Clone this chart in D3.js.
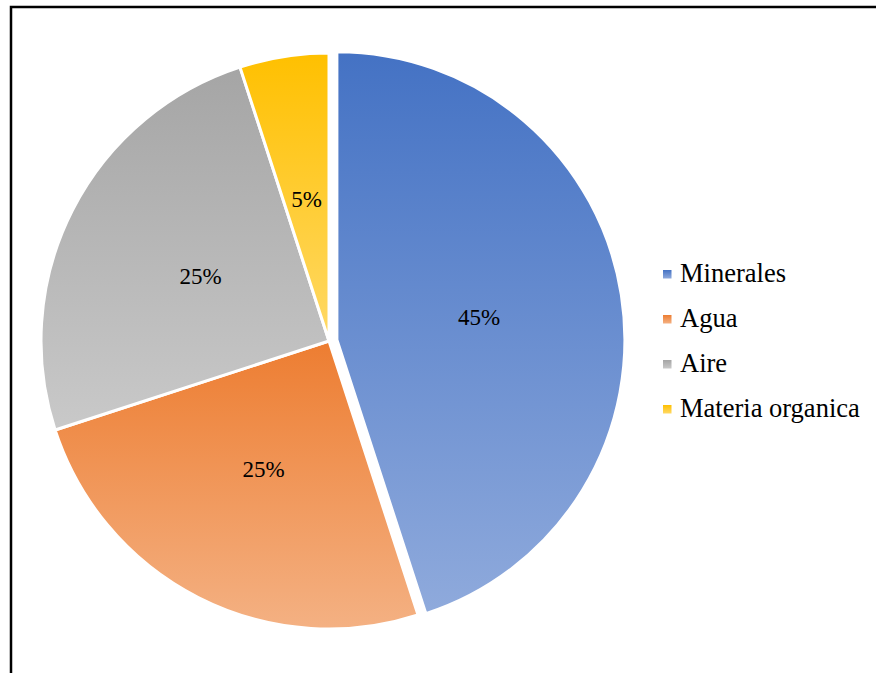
<!DOCTYPE html>
<html>
<head>
<meta charset="utf-8">
<script src="https://cdn.jsdelivr.net/npm/d3@7"></script>
<style>
  html, body { margin: 0; padding: 0; background: #fff; }
  svg { display: block; }
</style>
</head>
<body>
<svg id="chart" width="876" height="673"></svg>
<script>
// Soil composition (percent)
const categories = ["Minerales", "Agua", "Aire", "Materia organica"];
const values = [45, 25, 25, 5];
const labels = ["45%", "25%", "25%", "5%"];
// gradient stops per slice: top colour, bottom colour
const topColors = ["#4472C4", "#ED7D31", "#A5A5A5", "#FFC000"];
const bottomColors = ["#8FAADC", "#F4B183", "#C9C9C9", "#FFD966"];
const explode = [8, 0, 0, 0];

const serif = "'Liberation Serif', 'Times New Roman', serif";
const svg = d3.select("#chart");

// outer frame (right and bottom sides fall outside the view)
svg.append("rect")
  .attr("x", 11).attr("y", 7)
  .attr("width", 1000).attr("height", 1000)
  .attr("fill", "none").attr("stroke", "#000").attr("stroke-width", 2.5);

const defs = svg.append("defs");
categories.forEach((c, i) => {
  const g = defs.append("linearGradient")
    .attr("id", "grad" + i)
    .attr("x1", 0).attr("y1", 0).attr("x2", 0).attr("y2", 1);
  g.append("stop").attr("offset", "0%").attr("stop-color", topColors[i]);
  g.append("stop").attr("offset", "100%").attr("stop-color", bottomColors[i]);
});

const cx = 329, cy = 341, R = 288;

const pie = d3.pie().sort(null).value(d => d)(values);
const arc = d3.arc().innerRadius(0).outerRadius(R);

const pieG = svg.append("g").attr("transform", `translate(${cx},${cy})`);

const slices = pieG.selectAll("g.slice")
  .data(pie)
  .join("g")
  .attr("class", "slice")
  .attr("transform", (d, i) => {
    const mid = (d.startAngle + d.endAngle) / 2;
    const dx = Math.sin(mid) * explode[i];
    const dy = -Math.cos(mid) * explode[i];
    return `translate(${dx},${dy})`;
  });

slices.append("path")
  .attr("d", arc)
  .attr("fill", (d, i) => `url(#grad${i})`)
  .attr("stroke", "#fff")
  .attr("stroke-width", 3)
  .attr("stroke-linejoin", "round");

// value labels at half the radius
slices.append("text")
  .attr("transform", d => `translate(${arc.centroid(d)})`)
  .attr("text-anchor", "middle")
  .attr("dy", "0.35em")
  .attr("font-family", serif)
  .attr("font-size", 23)
  .attr("fill", "#000")
  .text((d, i) => labels[i]);

// legend
const legend = svg.append("g").attr("transform", "translate(663,282)");
const row = legend.selectAll("g.item")
  .data(categories)
  .join("g")
  .attr("class", "item")
  .attr("transform", (d, i) => `translate(0,${i * 45})`);

row.append("rect")
  .attr("x", 0).attr("y", -12)
  .attr("width", 8.5).attr("height", 8.5)
  .attr("fill", (d, i) => `url(#grad${i})`);

row.append("text")
  .attr("x", 17).attr("y", 0)
  .attr("font-family", serif)
  .attr("font-size", 26.5)
  .attr("fill", "#000")
  .text(d => d);
</script>
</body>
</html>
